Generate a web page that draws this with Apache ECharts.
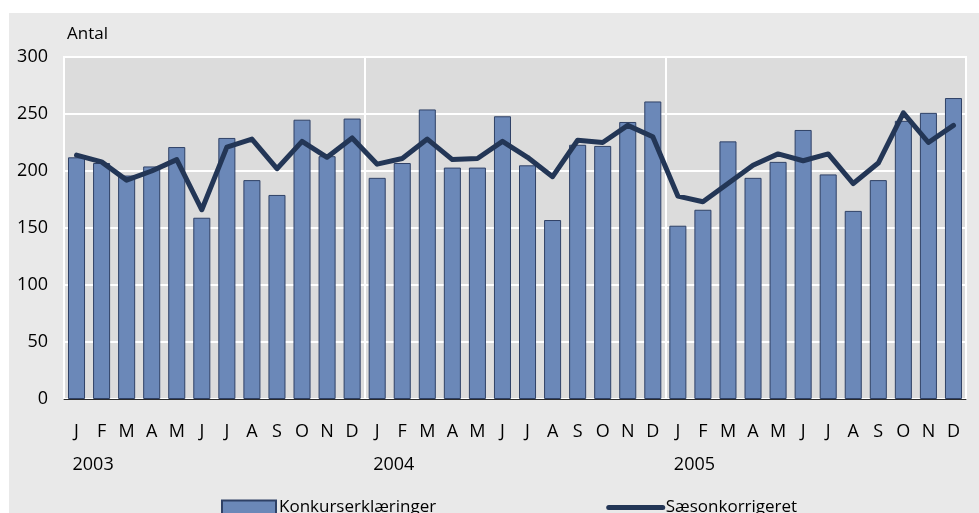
<!DOCTYPE html>
<html><head><meta charset="utf-8">
<script src="https://cdn.jsdelivr.net/npm/echarts@6/dist/echarts.min.js"></script>
<style>html,body{margin:0;padding:0;background:#fff}#c{width:979px;height:513px}</style>
</head><body><div id="c"></div>
<script>
var months = ['J','F','M','A','M','J','J','A','S','O','N','D','J','F','M','A','M','J','J','A','S','O','N','D','J','F','M','A','M','J','J','A','S','O','N','D'];
var years = ['2003','2004','2005'];
var konkurs = [212,207,196,204,221,159,229,192,179,245,213,246, 194,207,254,203,203,248,205,157,223,222,243,261, 152,166,226,194,208,236,197,165,192,244,251,264];
var saeson = [214,208,192,200,210,166,221,228,202,226,212,229, 206,211,228,210,211,226,212,195,227,225,240,230, 178,173,189,205,215,209,215,189,207,251,225,240];
var yTicks = {min:0, max:300, interval:50};

var FONT = 'Open Sans';
var chart = echarts.init(document.getElementById('c'), null, {renderer:'canvas'});
chart.setOption({
  backgroundColor:'#ffffff',
  animation:false,
  textStyle:{fontFamily:FONT, color:'#000'},
  graphic:[{type:'rect', z:-100, silent:true, shape:{x:9,y:13,width:970,height:500}, style:{fill:'#e9e9e9'}}],
  grid:{left:64, right:13, top:57, bottom:114, show:true, backgroundColor:'#dcdcdc', borderColor:'#ffffff', borderWidth:2},
  legend:{left:216, top:494, itemWidth:54, itemHeight:14, itemGap:170,
    textStyle:{fontFamily:FONT, fontSize:17, color:'#000', padding:[0,0,0,-2]},
    data:[{name:'Konkurserklæringer', icon:'rect'},
          {name:'Sæsonkorrigeret', itemStyle:{opacity:0}, lineStyle:{width:5, cap:'round'}}]},
  xAxis:[{
    type:'category', data:months,
    axisLine:{show:true, lineStyle:{color:'#2b2b2b', width:1}},
    axisTick:{show:false},
    axisLabel:{interval:0, margin:24, fontFamily:FONT, fontSize:18, color:'#000'},
    splitLine:{show:true, interval:function(i){return i%12===0;}, lineStyle:{color:'#ffffff', width:2}}
  },{
    type:'category', data:months, position:'bottom', offset:33,
    axisLine:{show:false}, axisTick:{show:false}, splitLine:{show:false},
    axisLabel:{interval:0, margin:24, align:'left', fontFamily:FONT, fontSize:18, color:'#000', padding:[0,0,0,-4],
      formatter:function(v,i){return i%12===0 ? years[i/12] : '';}}
  }],
  yAxis:{type:'value', min:yTicks.min, max:yTicks.max, interval:yTicks.interval,
    name:'Antal', nameLocation:'end', nameGap:14,
    nameTextStyle:{align:'left', fontFamily:FONT, fontSize:17, color:'#000', padding:[0,0,0,3]},
    axisLine:{show:false}, axisTick:{show:false},
    axisLabel:{margin:16, fontFamily:FONT, fontSize:18, color:'#000'},
    splitLine:{show:true, lineStyle:{color:'#ffffff', width:2}}},
  series:[{
    name:'Konkurserklæringer', type:'bar', data:konkurs, barCategoryGap:'32%',
    itemStyle:{color:'#6b88b8', borderColor:'#2f4166', borderWidth:1}
  },{
    name:'Sæsonkorrigeret', type:'line', data:saeson, symbol:'none', z:5,
    lineStyle:{color:'#233656', width:5, join:'round', cap:'round'}, itemStyle:{color:'#233656'}
  }]
});
</script></body></html>
